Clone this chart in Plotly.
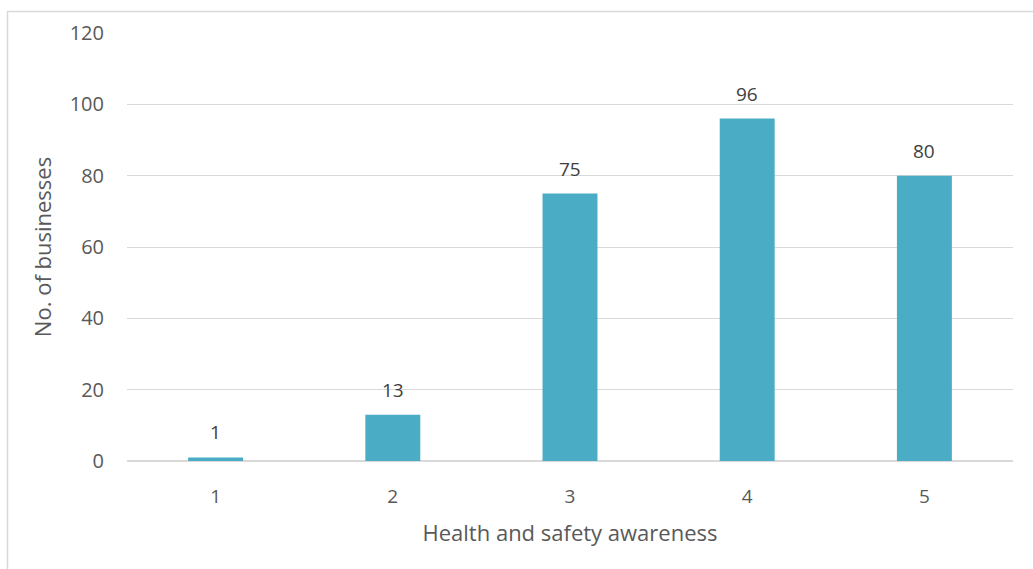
import plotly.graph_objects as go

categories = ["1", "2", "3", "4", "5"]
businesses = [1, 13, 75, 96, 80]
y_ticks = [0, 20, 40, 60, 80, 100, 120]

W, H = 1033, 569
ml, mr, mt, mb = 127, 20, 33, 108
pw, ph = W - ml - mr, H - mt - mb

fig = go.Figure(
    go.Bar(
        x=categories,
        y=businesses,
        marker=dict(color="#4BACC6", line=dict(width=0)),
        width=0.31,
        hoverinfo="x+y",
    )
)

# value labels above each bar (category axis positions are indices)
for i, v in enumerate(businesses):
    fig.add_annotation(
        x=i, y=v, xref="x", yref="y", text=str(v), showarrow=False,
        yanchor="bottom", yshift=10,
        font=dict(family="Open Sans", size=19, color="#404040"),
    )

fig.update_layout(
    width=W,
    height=H,
    margin=dict(l=ml, r=mr, t=mt, b=mb),
    paper_bgcolor="white",
    plot_bgcolor="white",
    showlegend=False,
    font=dict(family="Open Sans", color="#595959", size=19),
    xaxis=dict(
        type="category",
        range=[-0.5, len(categories) - 0.5],
        showgrid=False,
        showline=False,
        ticks="",
        ticklabelstandoff=22,
        tickfont=dict(size=19, color="#595959"),
        title=dict(text="Health and safety awareness",
                   font=dict(size=22, color="#595959"), standoff=17),
    ),
    yaxis=dict(
        range=[0, 120],
        tickvals=y_ticks,
        showgrid=True,
        gridcolor="#D9D9D9",
        gridwidth=1,
        zeroline=True,
        zerolinecolor="#D9D9D9",
        zerolinewidth=1.5,
        showline=False,
        ticks="",
        ticklabelstandoff=22,
        tickfont=dict(size=20, color="#595959"),
        title=dict(text="No. of businesses",
                   font=dict(size=22, color="#595959"), standoff=11),
    ),
    shapes=[
        dict(
            type="rect",
            xref="paper", yref="paper",
            x0=(7.5 - ml) / pw, x1=(W + 20 - ml) / pw,
            y0=-(H + 20 - mt - ph) / ph, y1=1 + (mt - 11.5) / ph,
            line=dict(color="#D9D9D9", width=1.5),
            fillcolor="rgba(0,0,0,0)",
            layer="below",
        )
    ],
)

fig.write_html("out.html")
